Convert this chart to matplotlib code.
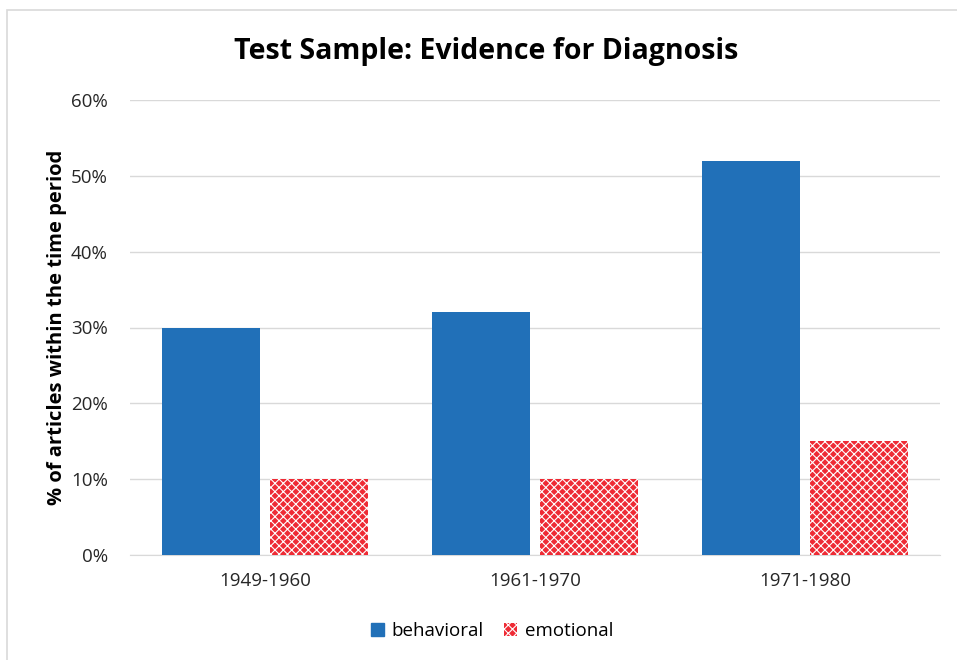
import matplotlib.pyplot as plt
import numpy as np
from matplotlib.patches import Rectangle

periods = ["1949-1960", "1961-1970", "1971-1980"]
behavioral = [30, 32, 52]
emotional = [10, 10, 15]

plt.rcParams['font.family'] = ['Open Sans', 'DejaVu Sans']
plt.rcParams['hatch.linewidth'] = 0.8

fig = plt.figure(figsize=(9.57, 6.6), dpi=100)
ax = fig.add_axes([130 / 957, 105 / 660, 810 / 957, 455 / 660])

# light frame around the chart (right and bottom edges are cut off)
fig.patches.append(Rectangle((7 / 957, -0.1), 1.1, 650 / 660 + 0.1, transform=fig.transFigure,
                             fill=False, edgecolor='#d9d9d9', linewidth=1.2))

x = np.arange(len(periods))
w = 0.365
gap = 0.017
ax.bar(x - w / 2 - gap, behavioral, w, color='#2170b8', zorder=3)
ax.bar(x + w / 2 + gap, emotional, w, facecolor='#ee2b35', edgecolor='white',
       hatch='xxxx', linewidth=0, zorder=3)

ax.set_xlim(-0.5, 2.5)
ax.set_ylim(0, 60)
ax.set_yticks(range(0, 61, 10))
ax.set_yticklabels([f"{v}%" for v in range(0, 61, 10)])
ax.set_xticks(x)
ax.set_xticklabels(periods)
ax.tick_params(axis='both', length=0, labelsize=13.5, colors='#262626')
ax.tick_params(axis='x', pad=12)
ax.tick_params(axis='y', pad=16)
ax.grid(axis='y', color='#d9d9d9', linewidth=1, zorder=0)
for s in ['top', 'right', 'left']:
    ax.spines[s].set_visible(False)
ax.spines['bottom'].set_color('#d9d9d9')

ax.set_ylabel("% of articles within the time period", fontsize=14.5, fontweight='bold', labelpad=3)
fig.text(0.508, 0.922, "Test Sample: Evidence for Diagnosis", ha='center', va='center',
         fontsize=20.5, fontweight='bold')

h1 = Rectangle((0, 0), 1, 1, color='#2170b8')
h2 = Rectangle((0, 0), 1, 1, facecolor='#ee2b35', edgecolor='white', hatch='xxxx', linewidth=0)
fig.legend([h1, h2], ["behavioral", "emotional"], loc='center', bbox_to_anchor=(0.514, 0.044),
           ncol=2, frameon=False, fontsize=13.5, handlelength=0.7, handleheight=0.7,
           handletextpad=0.4, columnspacing=1.1)

fig.savefig("out.png", dpi=100)
